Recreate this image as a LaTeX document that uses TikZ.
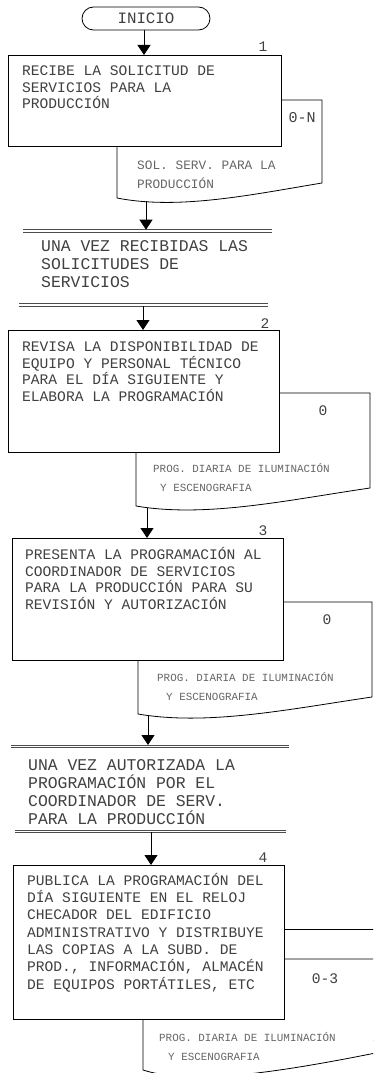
\documentclass[tikz,border=0pt]{standalone}
\usepackage{fontspec}
\newfontfamily\cour{Liberation Mono}
\usetikzlibrary{arrows.meta}
\lineskiplimit=-20pt
\tikzset{
  box/.style={draw=black, fill=white, line width=0.8pt, rectangle, inner sep=0pt, anchor=north west},
  doc/.style={draw=black, fill=white, line width=0.8pt},
  arr/.style={line width=0.8pt, -{Triangle[width=13pt,length=10pt]}},
  dbl/.style={line width=0.8pt, draw=black!70},
  btxt/.style={anchor=north west, inner sep=0pt, align=left, text=black!75,
    font=\cour\fontsize{14.6}{16.8}\selectfont},
  ctxt/.style={anchor=north west, inner sep=0pt, align=left, text=black!75,
    font=\cour\fontsize{16.4}{18}\selectfont},
  dtxt/.style={anchor=base west, inner sep=0pt, text=black!60, font=\cour\fontsize{10.9}{13}\selectfont},
  dtxtb/.style={anchor=base west, inner sep=0pt, text=black!60, font=\cour\fontsize{12.8}{15}\selectfont},
  num/.style={anchor=base, inner sep=0pt, text=black!75, font=\cour\fontsize{14.6}{16}\selectfont},
  term/.style={draw=black, fill=white, line width=0.8pt, rounded corners=11.5pt,
    minimum width=128pt, minimum height=23pt, inner sep=0pt, text=black!75,
    font=\cour\fontsize{15.8}{18}\selectfont},
}
\begin{document}
\begin{tikzpicture}[x=1pt,y=-1pt]
\useasboundingbox (0,0) rectangle (373,1073);
\clip (0,0) rectangle (373,1073);

% ---------- start
\node[term] (ini) at (146,18.5) {INICIO};

% ---------- step 1
\draw[doc] (117,100) -- (322,100) -- (322,183) .. controls (250,195) and (178,210) .. (117,198) -- cycle;
\node[box, minimum width=273pt, minimum height=91pt] (b1) at (8,55) {};
\node[btxt] (t1) at (22,59) {\rule{0pt}{16pt}RECIBE LA SOLICITUD DE\\SERVICIOS PARA LA\\PRODUCCIÓN};
\node[num] (n1) at (263,51.7) {1};
\node[num, font=\cour\fontsize{15}{16}\selectfont] (q1) at (302,122) {0-N};
\node[dtxtb] (d1a) at (137,169.6) {SOL. SERV. PARA LA};
\node[dtxtb] (d1b) at (137,188.6) {PRODUCCIÓN};
\coordinate (d1) at (146,201);
\coordinate (a1) at (144,30);
\draw[arr] (a1) -- (a1 |- b1.north);

% ---------- connector text 1
\coordinate (dl1a) at (23,229.7); \coordinate (dl1b) at (272,229.7);
\coordinate (dl1c) at (23,232);   \coordinate (dl1d) at (272,232);
\draw[dbl] (dl1a) -- (dl1b);
\draw[dbl] (dl1c) -- (dl1d);
\coordinate (dl1m) at (146,229.7);
\draw[arr] (d1) -- (dl1m);
\node[ctxt] (c1) at (41,235.7) {\rule{0pt}{16pt}UNA VEZ RECIBIDAS LAS\\SOLICITUDES DE\\SERVICIOS};
\coordinate (dl2a) at (19,303.7); \coordinate (dl2b) at (268,303.7);
\coordinate (dl2c) at (19,306);   \coordinate (dl2d) at (268,306);
\draw[dbl] (dl2a) -- (dl2b);
\draw[dbl] (dl2c) -- (dl2d);
\coordinate (dl2m) at (143,306);

% ---------- step 2
\draw[doc] (136,393) -- (370,393) -- (370,488) .. controls (288,500) and (206,518) .. (136,506) -- cycle;
\node[box, minimum width=271pt, minimum height=122pt] (b2) at (8,330) {};
\node[btxt] (t2) at (22,335) {\rule{0pt}{16pt}REVISA LA DISPONIBILIDAD DE\\EQUIPO Y PERSONAL TÉCNICO\\PARA EL DÍA SIGUIENTE Y\\ELABORA LA PROGRAMACIÓN};
\node[num] (n2) at (265,328) {2};
\node[num] (q2) at (323,415) {0};
\node[dtxt] (d2a) at (153,472.2) {PROG. DIARIA DE ILUMINACIÓN};
\node[dtxt] (d2b) at (160,491.2) {Y ESCENOGRAFIA};
\coordinate (d2) at (147,508);
\draw[arr] (dl2m) -- (dl2m |- b2.north);

% ---------- step 3
\draw[doc] (138,602) -- (372,602) -- (372,697) .. controls (290,709) and (208,726) .. (138,714) -- cycle;
\node[box, minimum width=271pt, minimum height=122pt] (b3) at (12,538) {};
\node[btxt] (t3) at (25,543) {\rule{0pt}{16pt}PRESENTA LA PROGRAMACIÓN AL\\COORDINADOR DE SERVICIOS\\PARA LA PRODUCCIÓN PARA SU\\REVISIÓN Y AUTORIZACIÓN};
\node[num] (n3) at (263,535) {3};
\node[num] (q3) at (327,624) {0};
\node[dtxt] (d3a) at (157,681.2) {PROG. DIARIA DE ILUMINACIÓN};
\node[dtxt] (d3b) at (166,700.2) {Y ESCENOGRAFIA};
\coordinate (d3) at (148,716);
\draw[arr] (d2) -- (d2 |- b3.north);

% ---------- connector text 2
\coordinate (dl3a) at (11,745);   \coordinate (dl3b) at (289,745);
\coordinate (dl3c) at (11,747.3); \coordinate (dl3d) at (289,747.3);
\draw[dbl] (dl3a) -- (dl3b);
\draw[dbl] (dl3c) -- (dl3d);
\coordinate (dl3m) at (148,745);
\draw[arr] (d3) -- (dl3m);
\node[ctxt, font=\cour\fontsize{16.4}{17.9}\selectfont] (c2) at (28,754.7) {\rule{0pt}{16pt}UNA VEZ AUTORIZADA LA\\PROGRAMACIÓN POR EL\\COORDINADOR DE SERV.\\PARA LA PRODUCCIÓN};
\coordinate (dl4a) at (15,830);   \coordinate (dl4b) at (286,830);
\coordinate (dl4c) at (15,832.3); \coordinate (dl4d) at (286,832.3);
\draw[dbl] (dl4a) -- (dl4b);
\draw[dbl] (dl4c) -- (dl4d);
\coordinate (dl4m) at (151,832.3);

% ---------- step 4
\draw[doc] (150,929) -- (400,929) -- (400,1040) -- (150,1040) -- cycle;
\draw[doc] (143,959) -- (400,959) -- (400,1048) .. controls (270,1075) and (190,1085) .. (143,1070) -- cycle;
\node[box, minimum width=271pt, minimum height=154pt] (b4) at (13,865) {};
\node[btxt, font=\cour\fontsize{14.6}{17.3}\selectfont] (t4) at (27,869) {\rule{0pt}{16pt}PUBLICA LA PROGRAMACIÓN DEL\\DÍA SIGUIENTE EN EL RELOJ\\CHECADOR DEL EDIFICIO\\ADMINISTRATIVO Y DISTRIBUYE\\LAS COPIAS A LA SUBD. DE\\PROD., INFORMACIÓN, ALMACÉN\\DE EQUIPOS PORTÁTILES, ETC};
\node[num] (n4) at (263,862) {4};
\node[num] (q4) at (325,983) {0-3};
\node[dtxt] (d4a) at (159,1041.2) {PROG. DIARIA DE ILUMINACIÓN};
\node[dtxt] (d4b) at (168,1060.2) {Y ESCENOGRAFIA};
\draw[arr] (dl4m) -- (dl4m |- b4.north);
\end{tikzpicture}
\end{document}
